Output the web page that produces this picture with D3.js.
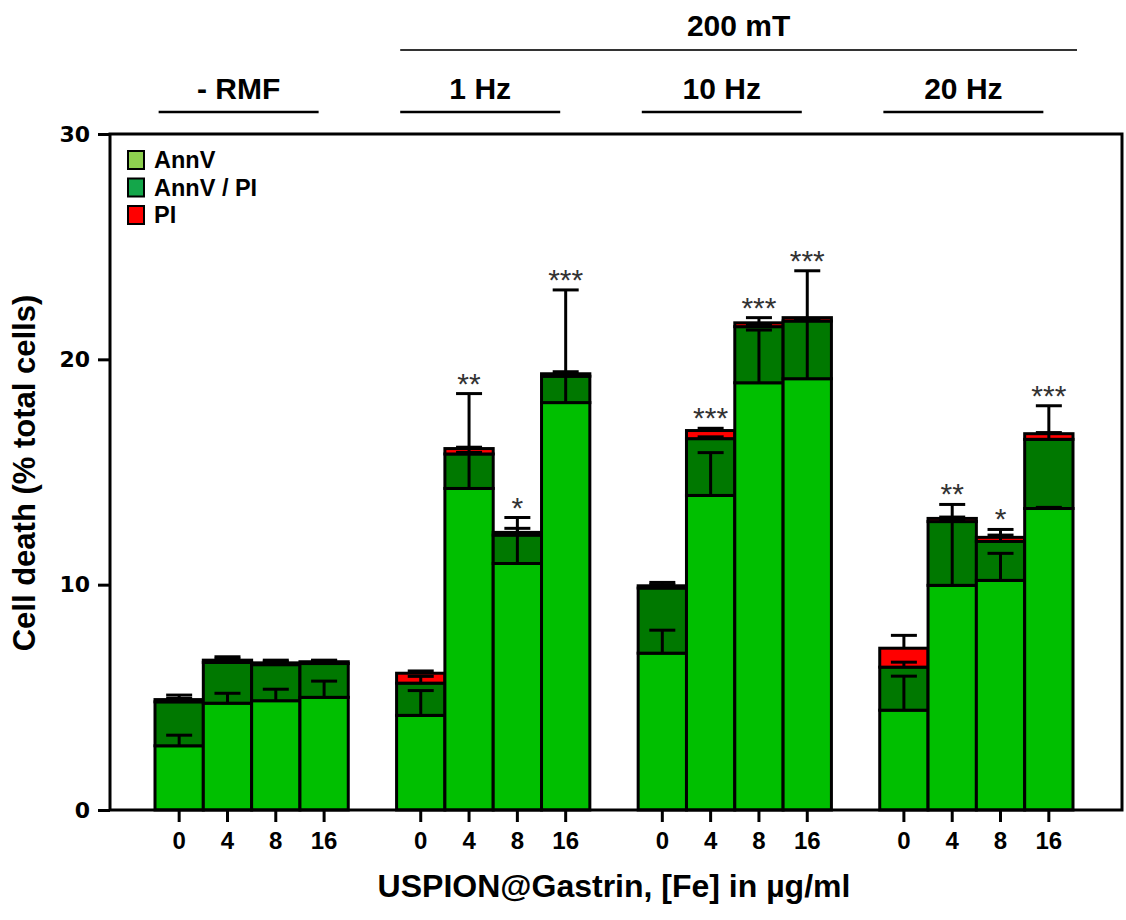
<!DOCTYPE html>
<html>
<head>
<meta charset="utf-8">
<script src="https://cdn.jsdelivr.net/npm/d3@7"></script>
<style>
  html, body { margin: 0; padding: 0; background: #ffffff; }
  svg { display: block; font-family: "Liberation Sans", Arial, sans-serif; }
</style>
</head>
<body>
<svg id="chart" width="1126" height="920"></svg>
<script>
// ---- data ----
const groups = ["- RMF", "1 Hz", "10 Hz", "20 Hz"];
const concentrations = ["0", "4", "8", "16"];
const superHeader = "200 mT";
const legendLabels = ["AnnV", "AnnV / PI", "PI"];
const yTicks = [0, 10, 20, 30];

// stacked segments, per bar (group-major order)
const annV    = [2.85, 4.74, 4.85, 5.00,  4.20, 14.27, 10.94, 18.08,  6.96, 13.96, 18.96, 19.14,  4.43,  9.97, 10.19, 13.38];
const annVPI  = [1.95, 1.81, 1.60, 1.50,  1.43,  1.53,  1.26,  1.17,  2.89,  2.52,  2.49,  2.56,  1.91,  2.83,  1.73,  3.07];
const pi      = [0.10, 0.10, 0.08, 0.08,  0.44,  0.24,  0.12,  0.11,  0.10,  0.36,  0.17,  0.15,  0.84,  0.14,  0.18,  0.25];
// error bars (plus direction) for each segment
const errAnnV   = [0.47, 0.44, 0.51, 0.72,  1.10, 1.60, 1.35, 1.20,  1.02, 1.90, 2.34, 2.60,  1.51, 2.90, 1.20, 0.05];
const errAnnVPI = [0.30, 0.25, 0.20, 0.15,  0.30, 0.30, 0.30, 0.20,  0.25, 0.08, 0.10, 0.10,  0.22, 0.20, 0.28, 0.30];
const errPI     = [0.05, 0.05, 0.05, 0.05,  0.10, 2.44, 0.66, 3.72,  0.05, 0.10, 0.23, 2.08,  0.57, 0.62, 0.35, 1.24];
const stars     = ["", "", "", "",  "", "**", "*", "***",  "", "***", "***", "***",  "", "**", "*", "***"];

// ---- layout ----
const svg = d3.select("#chart");
const plot = { left: 110, right: 1122, top: 134, bottom: 810 };

// slot keys: 4 bars per group with one empty slot between groups
const slots = [];
groups.forEach((g, gi) => {
  if (gi > 0) slots.push("gap" + gi);
  concentrations.forEach(c => slots.push(g + "|" + c));
});
const x = d3.scaleBand().domain(slots).range([155, 1073]).padding(0);
const y = d3.scaleLinear().domain([0, 30]).range([plot.bottom, plot.top]);

const bars = [];
groups.forEach((g, gi) => concentrations.forEach((c, ci) => {
  const i = gi * 4 + ci;
  const a = annV[i], b = annVPI[i], p = pi[i];
  bars.push({
    key: g + "|" + c, group: g, conc: c,
    segs: [
      { y0: 0, y1: a, color: "#00bf00" },
      { y0: a, y1: a + b, color: "#007800" },
      { y0: a + b, y1: a + b + p, color: "#ff0000" }
    ],
    errs: [
      { base: a, top: a + errAnnV[i] },
      { base: a + b, top: a + b + errAnnVPI[i] },
      { base: a + b + p, top: a + b + p + errPI[i] }
    ],
    star: stars[i]
  });
}));

// ---- bars ----
const gBars = svg.append("g");
bars.forEach(d => {
  gBars.selectAll(null).data(d.segs).enter().append("rect")
    .attr("x", x(d.key))
    .attr("width", x.bandwidth())
    .attr("y", s => y(s.y1))
    .attr("height", s => y(s.y0) - y(s.y1))
    .attr("fill", s => s.color)
    .attr("stroke", "#000")
    .attr("stroke-width", 3);
});

// ---- error bars ----
const capW = 26;
const gErr = svg.append("g").attr("stroke", "#000").attr("stroke-width", 3);
bars.forEach(d => {
  const cx = x(d.key) + x.bandwidth() / 2;
  d.errs.forEach(e => {
    gErr.append("line").attr("x1", cx).attr("x2", cx).attr("y1", y(e.base)).attr("y2", y(e.top));
    gErr.append("line").attr("x1", cx - capW / 2).attr("x2", cx + capW / 2).attr("y1", y(e.top)).attr("y2", y(e.top));
  });
});

// ---- significance stars ----
bars.forEach(d => {
  if (!d.star) return;
  const cx = x(d.key) + x.bandwidth() / 2;
  const top = d3.max(d.errs, e => e.top);
  svg.append("text")
    .attr("x", cx).attr("y", y(top))
    .attr("text-anchor", "middle")
    .attr("font-size", 30).attr("fill", "#333")
    .text(d.star);
});

// ---- frame ----
svg.append("rect")
  .attr("x", plot.left).attr("y", plot.top)
  .attr("width", plot.right - plot.left).attr("height", plot.bottom - plot.top)
  .attr("fill", "none").attr("stroke", "#000").attr("stroke-width", 3);

// ---- y axis ----
const yAxis = svg.append("g").attr("transform", `translate(${plot.left},0)`)
  .call(d3.axisLeft(y).tickValues(yTicks).tickSize(12).tickPadding(8));
yAxis.select(".domain").remove();
yAxis.selectAll(".tick line").attr("stroke", "#000").attr("stroke-width", 3);
yAxis.selectAll(".tick text").attr("font-size", 22).attr("font-weight", "bold")
  .attr("font-family", "'DejaVu Sans', sans-serif").attr("fill", "#000");

// ---- x axis ----
const xAxis = svg.append("g").attr("transform", `translate(0,${plot.bottom})`)
  .call(d3.axisBottom(x).tickValues(slots.filter(s => !s.startsWith("gap")))
    .tickFormat(s => s.split("|")[1]).tickSize(12).tickPadding(10));
xAxis.select(".domain").remove();
xAxis.selectAll(".tick line").attr("stroke", "#000").attr("stroke-width", 3);
xAxis.selectAll(".tick text").attr("font-size", 24).attr("font-weight", "bold")
  .attr("font-family", "'Liberation Sans', Arial, sans-serif").attr("fill", "#000");

// ---- axis titles ----
svg.append("text")
  .attr("transform", `translate(35,${(plot.top + plot.bottom) / 2 + 1}) rotate(-90)`)
  .attr("text-anchor", "middle").attr("font-size", 31).attr("font-weight", "bold")
  .text("Cell death (% total cells)");
svg.append("text")
  .attr("x", 614).attr("y", 897)
  .attr("text-anchor", "middle").attr("font-size", 32).attr("font-weight", "bold")
  .text("USPION@Gastrin, [Fe] in µg/ml");

// ---- headers ----
const groupCenter = g => {
  const first = x(g + "|" + concentrations[0]);
  const last = x(g + "|" + concentrations[concentrations.length - 1]) + x.bandwidth();
  return (first + last) / 2 - 13;
};
groups.forEach(g => {
  const cx = groupCenter(g);
  svg.append("text").attr("x", cx).attr("y", 99)
    .attr("text-anchor", "middle").attr("font-size", 30).attr("font-weight", "bold").text(g);
  svg.append("line").attr("x1", cx - 80).attr("x2", cx + 80).attr("y1", 112).attr("y2", 112)
    .attr("stroke", "#000").attr("stroke-width", 2.5);
});
const hx1 = groupCenter(groups[1]) - 80;
const hx2 = x(groups[3] + "|" + concentrations[3]) + x.bandwidth() + 4;
svg.append("line").attr("x1", hx1).attr("x2", hx2).attr("y1", 50).attr("y2", 50)
  .attr("stroke", "#333").attr("stroke-width", 2);
svg.append("text").attr("x", (hx1 + hx2) / 2).attr("y", 36)
  .attr("text-anchor", "middle").attr("font-size", 30).attr("font-weight", "bold").text(superHeader);

// ---- legend ----
const legendColors = ["#8ed14f", "#14a64a", "#ff0000"];
const lg = svg.append("g");
legendLabels.forEach((l, i) => {
  const ry = 151 + i * 27.5;
  lg.append("rect").attr("x", 128).attr("y", ry).attr("width", 16).attr("height", 18)
    .attr("fill", legendColors[i]).attr("stroke", "#000").attr("stroke-width", 2);
  lg.append("text").attr("x", 154).attr("y", ry + 17)
    .attr("font-size", 23.5).attr("font-weight", "bold").text(l);
});
</script>
</body>
</html>
